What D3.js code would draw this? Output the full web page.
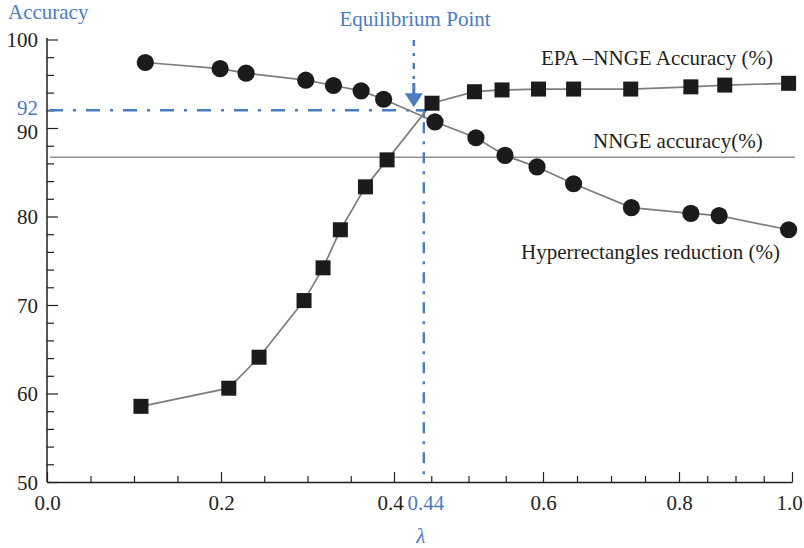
<!DOCTYPE html>
<html>
<head>
<meta charset="utf-8">
<script src="https://cdn.jsdelivr.net/npm/d3@7"></script>
<style>
  body { margin: 0; background: #fff; }
  svg text { font-family: "Liberation Serif", "Times New Roman", serif; }
</style>
</head>
<body>
<div id="viz"></div>
<script>
// lambda values and accuracies
const reductionX = [0.113, 0.199, 0.229, 0.298, 0.330, 0.362, 0.388, 0.455, 0.510, 0.549, 0.592, 0.645, 0.730, 0.821, 0.871, 0.994];
const reductionY = [97.4, 96.7, 96.2, 95.4, 94.8, 94.2, 93.25, 90.7, 88.9, 86.9, 85.6, 83.7, 81.0, 80.35, 80.1, 78.5];

const epaX = [0.108, 0.209, 0.244, 0.296, 0.318, 0.338, 0.367, 0.392, 0.451, 0.508, 0.545, 0.594, 0.645, 0.729, 0.821, 0.881, 0.994];
const epaY = [58.55, 60.6, 64.1, 70.5, 74.2, 78.5, 83.35, 86.4, 92.8, 94.1, 94.3, 94.4, 94.4, 94.4, 94.65, 94.85, 95.05];

const nngeAccuracy = 86.7;
const equilibrium = { lambda: 0.44, accuracy: 92 };

const xMajorTicks = [0, 0.2, 0.4, 0.6, 0.8, 1.0];
const yMajorTicks = [50, 60, 70, 80, 90, 100];

const blue = "#4a7cc0";
const ink = "#231f20";
const fs = 21;

const width = 804, height = 548;

const svg = d3.select("#viz").append("svg")
  .attr("width", width)
  .attr("height", height);

// the printed axis is not evenly spaced, so map each major tick to where it sits
const x = d3.scaleLinear()
  .domain(xMajorTicks)
  .range([47, 221, 394, 543, 679, 792]);

const y = d3.scaleLinear()
  .domain([50, 100])
  .range([482, 39.5]);

// minor ticks
const xMinor = d3.range(0, 1.0001, 0.05).filter(v => Math.abs(v * 5 - Math.round(v * 5)) > 1e-6);
const yMinor = d3.range(50, 100.01, 2).filter(v => v % 10 !== 0);

svg.append("g")
  .attr("transform", `translate(0,${y(50)})`)
  .call(d3.axisBottom(x).tickValues(xMinor).tickSize(-6).tickSizeOuter(0).tickFormat(""))
  .call(g => g.select(".domain").remove())
  .selectAll("line").attr("stroke", ink).attr("stroke-width", 1.2);

svg.append("g")
  .attr("transform", `translate(${x(0)},0)`)
  .call(d3.axisLeft(y).tickValues(yMinor).tickSize(-7).tickSizeOuter(0).tickFormat(""))
  .call(g => g.select(".domain").remove())
  .selectAll("line").attr("stroke", ink).attr("stroke-width", 1.2);

// major axes
const xAxis = svg.append("g")
  .attr("transform", `translate(0,${y(50)})`)
  .call(d3.axisBottom(x).tickValues(xMajorTicks).tickSize(-10).tickSizeOuter(0).tickPadding(13)
    .tickFormat(d3.format(".1f")));
xAxis.select(".domain").attr("stroke", ink).attr("stroke-width", 1.5);
xAxis.selectAll("line").attr("stroke", ink).attr("stroke-width", 1.2);
xAxis.selectAll("text").attr("font-size", fs).attr("fill", ink)
  .attr("font-family", "Liberation Serif, serif")
  .attr("dx", d => d === 0.4 ? -4 : d === 1 ? -3 : 0);

const yAxis = svg.append("g")
  .attr("transform", `translate(${x(0)},0)`)
  .call(d3.axisLeft(y).tickValues(yMajorTicks).tickSize(-11).tickSizeOuter(0).tickPadding(9));
yAxis.select(".domain").attr("stroke", ink).attr("stroke-width", 1.5)
  .attr("d", `M0,${y(100) - 1.5}V${y(50)}`);
yAxis.selectAll("line").attr("stroke", ink).attr("stroke-width", 1.2);
yAxis.selectAll("text").attr("font-size", fs).attr("fill", ink)
  .attr("font-family", "Liberation Serif, serif")
  .attr("dy", d => d === 90 ? "0.5em" : "0.35em");

// NNGE accuracy reference line
svg.append("line")
  .attr("x1", x(0) + 3).attr("x2", 795)
  .attr("y1", y(nngeAccuracy)).attr("y2", y(nngeAccuracy))
  .attr("stroke", "#8f8f8f").attr("stroke-width", 1.4);

// equilibrium guides
const ex = x(equilibrium.lambda), ey = y(equilibrium.accuracy);

svg.append("line")
  .attr("x1", x(0) + 2).attr("x2", ex - 2)
  .attr("y1", ey).attr("y2", ey)
  .attr("stroke", blue).attr("stroke-width", 2.4)
  .attr("stroke-dasharray", "14,10,3,10");

svg.append("path")
  .attr("d", `M${ex - 8},${ey}H${ex}V${ey + 8}`)
  .attr("fill", "none").attr("stroke", blue).attr("stroke-width", 2.4);

svg.append("line")
  .attr("x1", ex).attr("x2", ex)
  .attr("y1", ey + 12).attr("y2", y(50))
  .attr("stroke", blue).attr("stroke-width", 2.4)
  .attr("stroke-dasharray", "11,8,3,8");

// arrow from the "Equilibrium Point" label
const ax = ex - 10;
svg.append("line")
  .attr("x1", ax).attr("x2", ax)
  .attr("y1", 40).attr("y2", 82)
  .attr("stroke", blue).attr("stroke-width", 2.4)
  .attr("stroke-dasharray", "6,7,3,7");
svg.append("line")
  .attr("x1", ax).attr("x2", ax)
  .attr("y1", 83).attr("y2", 95)
  .attr("stroke", blue).attr("stroke-width", 3);
svg.append("path")
  .attr("d", `M${ax - 9},${ey - 17}L${ax + 9},${ey - 17}L${ax},${ey - 3}Z`)
  .attr("fill", blue);

// series lines
const line = d3.line()
  .x(d => x(d[0]))
  .y(d => y(d[1]));

const reduction = reductionX.map((v, i) => [v, reductionY[i]]);
const epa = epaX.map((v, i) => [v, epaY[i]]);

svg.append("path").datum(reduction)
  .attr("d", line).attr("fill", "none")
  .attr("stroke", "#7d7d7d").attr("stroke-width", 1.7);

svg.append("path").datum(epa)
  .attr("d", line).attr("fill", "none")
  .attr("stroke", "#7d7d7d").attr("stroke-width", 1.7);

svg.selectAll("circle.red")
  .data(reduction).join("circle")
  .attr("class", "red")
  .attr("cx", d => x(d[0])).attr("cy", d => y(d[1]))
  .attr("r", 8.6)
  .attr("fill", "#1b1b1b");

const sq = 15;
svg.selectAll("rect.epa")
  .data(epa).join("rect")
  .attr("class", "epa")
  .attr("x", d => x(d[0]) - sq / 2).attr("y", d => y(d[1]) - sq / 2)
  .attr("width", sq).attr("height", sq)
  .attr("fill", "#1b1b1b");

// labels
const label = (tx, ty, str, color, anchor) => svg.append("text")
  .attr("x", tx).attr("y", ty)
  .attr("font-size", fs)
  .attr("fill", color)
  .attr("text-anchor", anchor || "start")
  .text(str);

label(8, 19, "Accuracy", blue);
label(415, 26, "Equilibrium Point", blue, "middle");
label(541, 65, "EPA \u2013NNGE Accuracy (%)", ink);
label(593, 148, "NNGE accuracy(%)", ink);
label(521, 259, "Hyperrectangles reduction (%)", ink);

label(x(0) - 9, ey + 5, "92", blue, "end");
label(ex + 2, y(50) + 28, "0.44", blue, "middle");
svg.append("text")
  .attr("x", ex - 3).attr("y", 543)
  .attr("font-size", fs).attr("font-style", "italic")
  .attr("fill", blue).attr("text-anchor", "middle")
  .text("\u03bb");
</script>
</body>
</html>
